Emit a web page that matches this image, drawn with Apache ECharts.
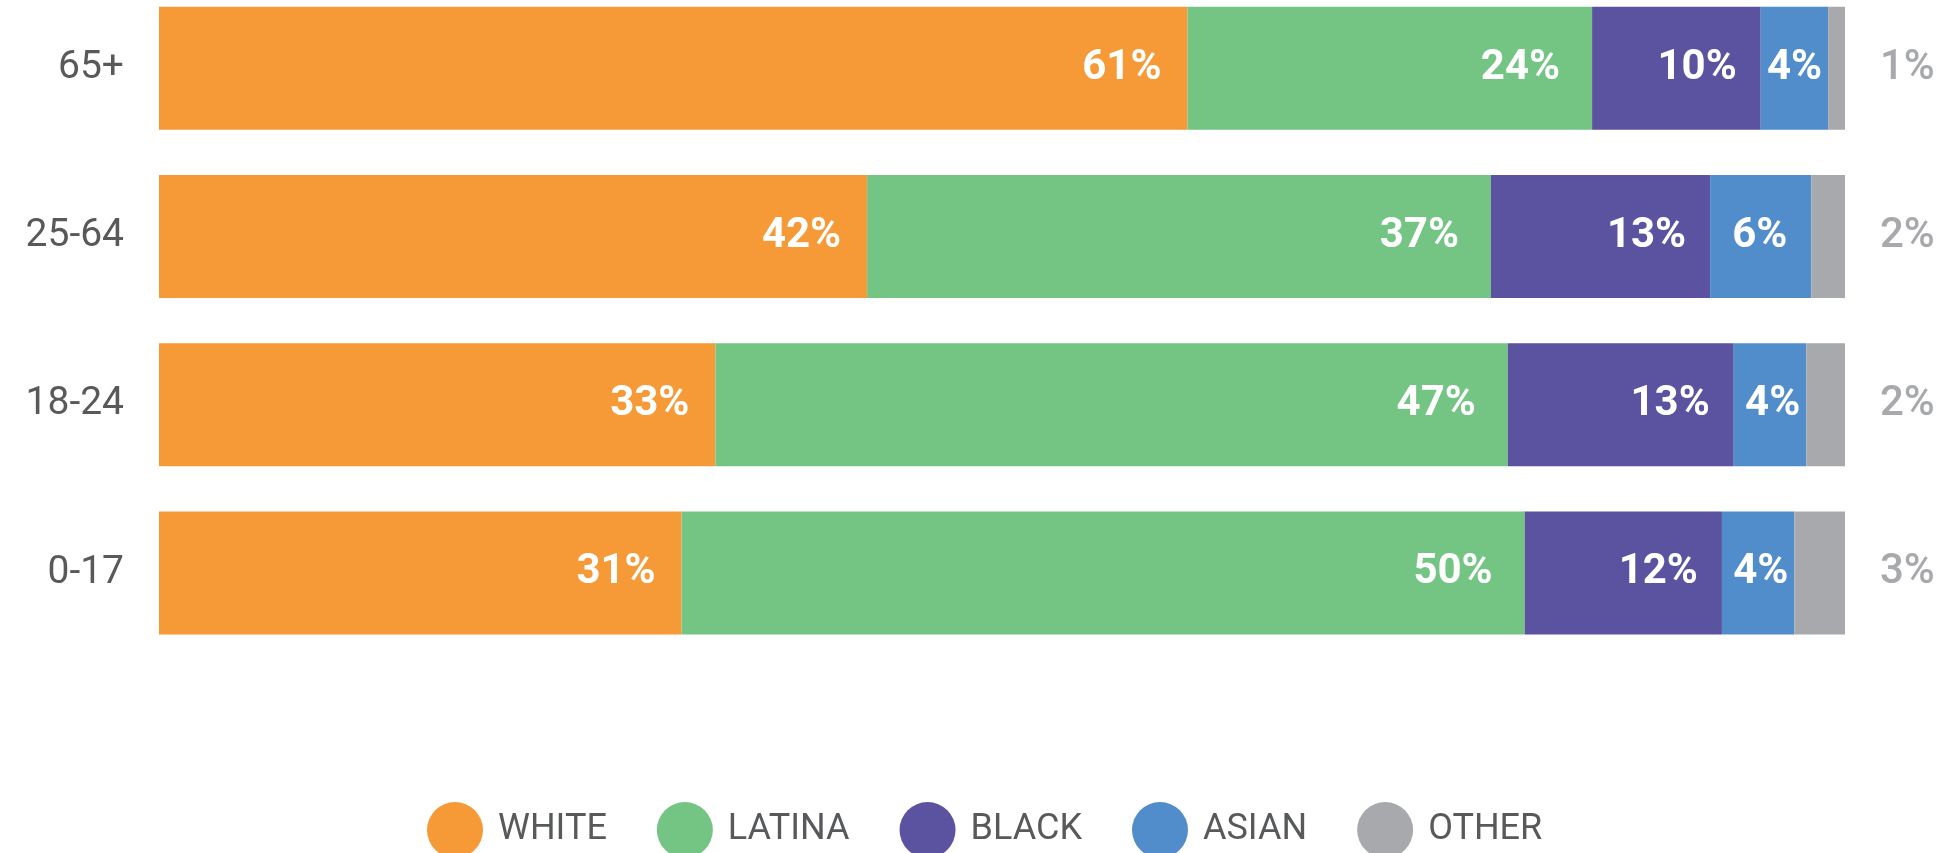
<!DOCTYPE html>
<html>
<head>
<meta charset="utf-8">
<script src="https://cdn.jsdelivr.net/npm/echarts@6/dist/echarts.min.js"></script>
<style>
  html, body { margin: 0; padding: 0; background: #fff; }
  #chart { width: 1944px; height: 853px; }
</style>
</head>
<body>
<div id="chart"></div>
<script>
// age groups, top to bottom
const categories = ['65+', '25-64', '18-24', '0-17']
const white = [61, 42, 33, 31]
const latina = [24, 37, 47, 50]
const black = [10, 13, 13.4, 11.7]
const asian = [4, 6, 4.3, 4.3]
const other = [1, 2, 2.3, 3]

const names = ['WHITE', 'LATINA', 'BLACK', 'ASIAN', 'OTHER']
const colors = ['#f69a37', '#74c584', '#5b52a0', '#528dcb', '#a8a9ac']

const chart = echarts.init(document.getElementById('chart'))

const pct = p => Math.round(p.value) + '%'

function innerSeries (name, values, color, dist) {
  return {
    name: name,
    type: 'bar',
    stack: 'total',
    barWidth: 123,
    itemStyle: { color: color },
    data: values.map(v => ({
      value: v,
      label: { distance: v < 5 ? 6 : dist }
    })),
    label: {
      show: true,
      position: 'insideRight',
      formatter: pct,
      color: '#fff',
      fontFamily: 'Roboto',
      fontWeight: 'bold',
      fontSize: 42
    }
  }
}

chart.setOption({
  animation: false,
  grid: {
    left: 159,
    right: 99,
    top: -16,
    height: 673,
    outerBoundsMode: 'none'
  },
  legend: {
    left: 422,
    top: 797,
    icon: 'circle',
    itemWidth: 56,
    itemHeight: 56,
    itemGap: 50,
    data: names,
    textStyle: {
      fontFamily: 'Roboto',
      fontSize: 36,
      color: '#58595b',
      padding: [0, 0, 0, 10]
    }
  },
  xAxis: {
    type: 'value',
    min: 0,
    max: 100,
    show: false
  },
  yAxis: {
    type: 'category',
    inverse: true,
    data: categories,
    axisLine: { show: false },
    axisTick: { show: false },
    axisLabel: {
      margin: 35,
      fontFamily: 'Roboto',
      fontSize: 39,
      color: '#58595b'
    }
  },
  series: [
    innerSeries(names[0], white, colors[0], 26),
    innerSeries(names[1], latina, colors[1], 32),
    innerSeries(names[2], black, colors[2], 24),
    innerSeries(names[3], asian, colors[3], 24),
    {
      name: names[4],
      type: 'bar',
      stack: 'total',
      barWidth: 123,
      itemStyle: { color: colors[4] },
      data: other,
      label: {
        show: true,
        position: 'right',
        distance: 35,
        formatter: pct,
        color: '#a8a9ac',
        fontFamily: 'Roboto',
        fontWeight: 500,
        fontSize: 42
      }
    }
  ]
})
</script>
</body>
</html>
